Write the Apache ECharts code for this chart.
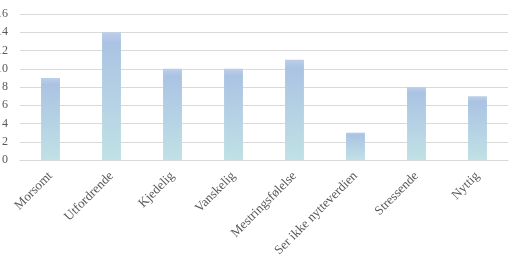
<!DOCTYPE html>
<html><head><meta charset="utf-8">
<script src="https://cdn.jsdelivr.net/npm/echarts@6/dist/echarts.min.js"></script>
<style>html,body{margin:0;padding:0;background:#fff}#c{width:511px;height:262px}</style>
</head><body><div id="c"></div>
<script>
const categories = ["Morsomt","Utfordrende","Kjedelig","Vanskelig","Mestringsfølelse","Ser ikke nytteverdien","Stressende","Nyttig"];
const values = [9,14,10,10,11,3,8,7];
const yMin = 0, yMax = 16, yStep = 2;

const chart = echarts.init(document.getElementById('c'), null, {renderer:'canvas'});
chart.setOption({
  animation:false,
  grid:{left:20,right:3,top:14,bottom:102,containLabel:false,outerBoundsMode:'none'},
  xAxis:{type:'category',data:categories,
    axisLine:{show:true,lineStyle:{color:'#d9d9d9'}},
    axisTick:{show:false},
    axisLabel:{rotate:45,interval:0,margin:14,color:'#595959',fontFamily:'Liberation Serif',fontSize:13}},
  yAxis:{type:'value',min:yMin,max:yMax,interval:yStep,
    axisLine:{show:false},axisTick:{show:false},
    splitLine:{lineStyle:{color:'#d9d9d9',width:1}},
    axisLabel:{margin:12,color:'#595959',fontFamily:'Liberation Serif',fontSize:12}},
  series:[{type:'bar',data:values,barWidth:'31%',
    itemStyle:{color:new echarts.graphic.LinearGradient(0,0,0,1,[
      {offset:0,color:'#bccfe9'},{offset:0.08,color:'#abc3e3'},{offset:1,color:'#c0e1e5'}])}}]
});
</script></body></html>
